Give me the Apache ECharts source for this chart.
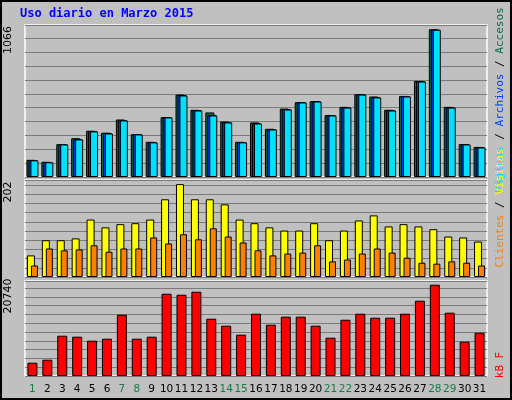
<!DOCTYPE html><html><head><meta charset="utf-8">
<script src="https://cdn.jsdelivr.net/npm/echarts@6/dist/echarts.min.js"></script>
<style>body{margin:0;background:#fff}#c{width:512px;height:400px}</style></head><body><div id="c"></div><script>
const days=['1','2','3','4','5','6','7','8','9','10','11','12','13','14','15','16','17','18','19','20','21','22','23','24','25','26','27','28','29','30','31'];
const weekend=['1','7','8','14','15','21','22','28','29'];
const paginas=[120,106,235,271,329,314,408,307,250,430,588,480,444,394,250,386,343,487,538,545,444,501,595,574,480,581,689,1062,501,235,213];
const archivos=[122,108,237,273,331,316,410,309,252,432,592,482,448,396,252,388,345,489,540,547,446,503,597,576,482,583,691,1064,503,237,215];
const accesos=[124,110,237,280,334,320,415,309,254,432,595,485,466,400,254,394,348,494,540,547,446,506,597,581,485,585,693,1066,506,237,217];
const visitas=[47,80,80,84,125,108,115,117,125,169,202,169,169,158,125,117,108,101,101,117,80,101,123,134,110,115,110,104,88,86,77];
const clientes=[25,62,58,60,69,55,62,62,86,73,93,82,106,88,75,58,47,51,53,69,34,38,51,62,53,42,31,29,34,31,25];
const kb=[3020,3700,9150,8930,8020,8470,13920,8470,8930,18690,18460,19140,13010,11420,9380,14150,11650,13470,13470,11420,8700,12780,14150,13240,13240,14150,17100,20740,14380,7790,9830];
const ch=echarts.init(document.getElementById('c'));
const L=25,R=25;
const grids=[{left:L,right:R,top:25,height:152},{left:L,right:R,top:180,height:97},{left:L,right:R,top:281,height:95}];
const gl={show:true,lineStyle:{color:'#7a7a7a',width:1}};
function xa(i,show){return {type:'category',data:days,gridIndex:i,axisTick:{show:false},axisLine:{show:false},
 axisLabel:{show:show,interval:0,hideOverlap:false,margin:8,fontFamily:'DejaVu Sans',fontSize:10.5,formatter:v=>weekend.includes(v)?'{g|'+v+'}':'{b|'+v+'}',rich:{g:{color:'#1a7a4a',fontSize:10.5},b:{color:'#000',fontSize:10.5}}}};}
function ya(i,max,iv){return {type:'value',gridIndex:i,min:0,max:max,interval:iv,axisLabel:{show:false},axisLine:{show:false},axisTick:{show:false},splitLine:gl};}
const bs={borderColor:'#000',borderWidth:1};
function bar(name,data,i,color,w,gap){return {name,type:'bar',data,xAxisIndex:i,yAxisIndex:i,barWidth:w,barGap:gap,itemStyle:Object.assign({color},bs),animation:false};}
ch.setOption({
 backgroundColor:'#c0c0c0',
 grid:grids.map(g=>Object.assign({show:true,backgroundColor:'#c0c0c0',borderColor:'#fff',borderWidth:1.5},g)),
 xAxis:[xa(0,false),xa(1,false),xa(2,true)],
 yAxis:[ya(0,1097,100),ya(1,211,20),ya(2,21580,2000)],
 series:[bar('Accesos',accesos,0,'#0b6b47',9,'-78%'),bar('Archivos',archivos,0,'#0040ff',9,'-78%'),bar('Páginas',paginas,0,'#00e0ff',8,'-78%'),
  bar('Visitas',visitas,1,'#ffff00',8,'-50%'),bar('Clientes',clientes,1,'#ff8000',7,'-50%'),
  bar('kB F',kb,2,'#ff0000',10,'0%')],
 graphic:[
  {type:'rect',shape:{x:1,y:1,width:510,height:398},style:{fill:'none',stroke:'#000',lineWidth:2}},
  {type:'text',left:20,top:8,style:{text:'Uso diario en Marzo 2015',fill:'#0000ff',font:'bold 12px "DejaVu Sans Mono"'}},
  {type:'text',x:8,y:40,rotation:Math.PI/2,style:{text:'1066',fill:'#000',font:'11px "DejaVu Sans"',align:'center',verticalAlign:'middle'}},
  {type:'text',x:8,y:192,rotation:Math.PI/2,style:{text:'202',fill:'#000',font:'11px "DejaVu Sans"',align:'center',verticalAlign:'middle'}},
  {type:'text',x:8,y:296,rotation:Math.PI/2,style:{text:'20740',fill:'#000',font:'11px "DejaVu Sans"',align:'center',verticalAlign:'middle'}},
  {type:'text',x:500,y:100,rotation:Math.PI/2,style:{text:'{a|Páginas} / {b|Archivos} / {c|Accesos}',align:'center',verticalAlign:'middle',font:'11px "DejaVu Sans Mono"',rich:{a:{fill:'#00e0ff',font:'11px "DejaVu Sans Mono"'},b:{fill:'#0040ff',font:'11px "DejaVu Sans Mono"'},c:{fill:'#0b6b47',font:'11px "DejaVu Sans Mono"'}}}},
  {type:'text',x:500,y:208,rotation:Math.PI/2,style:{text:'{a|Clientes} / {b|Visitas}',align:'center',verticalAlign:'middle',font:'11px "DejaVu Sans Mono"',rich:{a:{fill:'#ff8000',font:'11px "DejaVu Sans Mono"'},b:{fill:'#ffff00',font:'11px "DejaVu Sans Mono"'}}}},
  {type:'text',x:500,y:365,rotation:Math.PI/2,style:{text:'kB F',fill:'#ff0000',align:'center',verticalAlign:'middle',font:'11px "DejaVu Sans Mono"'}}
 ]
});
</script></body></html>
